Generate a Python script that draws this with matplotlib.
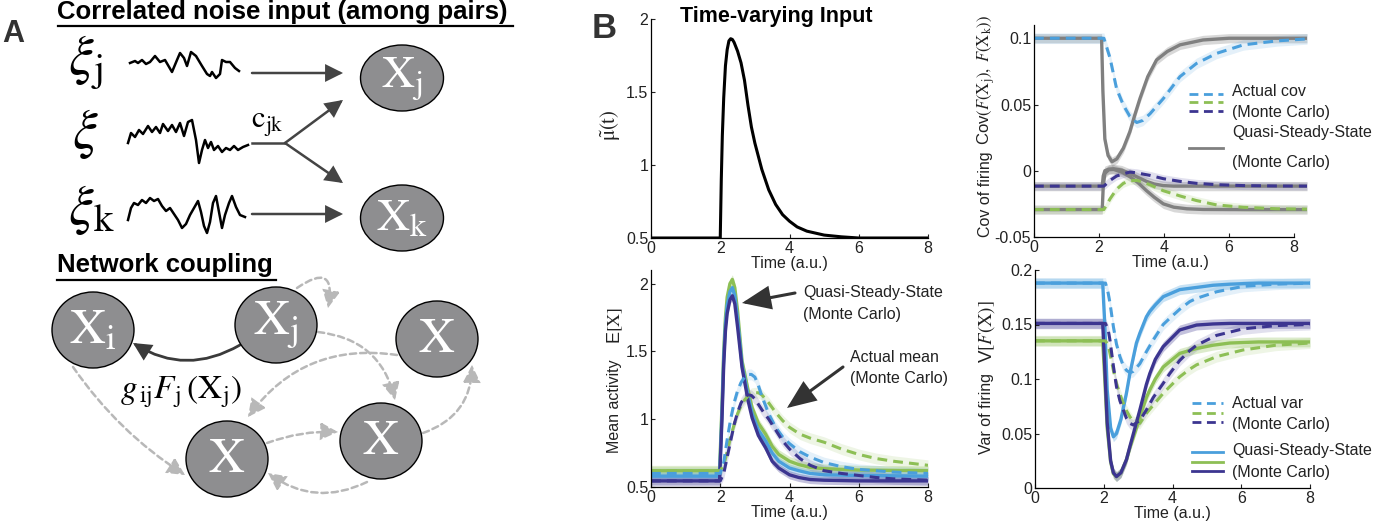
import numpy as np
import matplotlib
matplotlib.use('Agg')
import matplotlib.pyplot as plt
from matplotlib.patches import Ellipse, FancyArrowPatch
from matplotlib.ticker import FormatStrFormatter

plt.rcParams['font.family'] = ['Liberation Sans', 'DejaVu Sans']
plt.rcParams['mathtext.fontset'] = 'stix'

# ---------------- data ----------------
# Time-varying input
t_input = [0, 2.0, 2.03, 2.06, 2.1, 2.15, 2.2, 2.25, 2.3, 2.35, 2.4, 2.5, 2.6, 2.7, 2.8, 2.9,
           3.0, 3.2, 3.4, 3.6, 3.8, 4.0, 4.22, 4.5, 5.0, 5.5, 6.0, 8.0]
mu_input = [0.5, 0.5, 0.9, 1.2, 1.46, 1.68, 1.79, 1.85, 1.865, 1.86, 1.84, 1.78, 1.70, 1.58, 1.41, 1.26,
            1.15, 0.97, 0.83, 0.73, 0.66, 0.615, 0.576, 0.547, 0.52, 0.508, 0.5, 0.5]

# Mean activity (quasi-steady-state, Monte Carlo)
t_mean_qss = [0, 1.98, 2.05, 2.1, 2.15, 2.2, 2.28, 2.35, 2.42, 2.5, 2.63, 2.8, 2.92, 3.1, 3.31,
              3.5, 3.69, 4.0, 4.27, 4.6, 5.0, 6.0, 8.0]
mean_qss_green = [0.62, 0.62, 1.1, 1.5, 1.75, 1.9, 2.0, 2.03, 1.97, 1.8, 1.43, 1.22, 1.085, 0.97, 0.89,
                  0.80, 0.74, 0.69, 0.665, 0.645, 0.635, 0.625, 0.62]
mean_qss_blue = [0.58, 0.58, 1.05, 1.45, 1.7, 1.84, 1.94, 1.97, 1.91, 1.74, 1.40, 1.18, 1.04, 0.92, 0.84,
                 0.75, 0.69, 0.64, 0.62, 0.60, 0.59, 0.585, 0.58]
mean_qss_indigo = [0.545, 0.545, 1.0, 1.4, 1.65, 1.78, 1.88, 1.91, 1.85, 1.68, 1.38, 1.14, 1.01, 0.88, 0.79,
                   0.69, 0.64, 0.59, 0.57, 0.555, 0.55, 0.545, 0.545]
# Mean activity (actual, Monte Carlo)
t_mean_act = [0, 2.0, 2.1, 2.2, 2.3, 2.4, 2.5, 2.6, 2.7, 2.8, 2.9, 3.0, 3.1, 3.2, 3.4, 3.6, 3.8,
              4.0, 4.3, 4.6, 5.0, 5.5, 6.0, 6.5, 7.0, 8.0]
mean_act_blue = [0.6, 0.6, 0.68, 0.85, 1.0, 1.12, 1.21, 1.27, 1.31, 1.33, 1.33, 1.31, 1.25, 1.17, 1.04,
                 0.94, 0.87, 0.82, 0.76, 0.72, 0.68, 0.65, 0.63, 0.62, 0.61, 0.6]
mean_act_green = [0.62, 0.62, 0.66, 0.76, 0.87, 0.96, 1.04, 1.10, 1.14, 1.17, 1.19, 1.195, 1.195, 1.18,
                  1.12, 1.05, 0.99, 0.94, 0.89, 0.86, 0.83, 0.78, 0.74, 0.71, 0.69, 0.66]
mean_act_indigo = [0.545, 0.545, 0.6, 0.72, 0.84, 0.96, 1.05, 1.12, 1.16, 1.18, 1.175, 1.15, 1.11, 1.07,
                   1.0, 0.92, 0.84, 0.78, 0.71, 0.66, 0.62, 0.6, 0.585, 0.57, 0.56, 0.55]

# Covariance of firing
t_cov_qss_top = [0, 2.08, 2.12, 2.18, 2.28, 2.4, 2.55, 2.75, 2.95, 3.1, 3.26, 3.5, 3.77, 4.1, 4.49, 5.2, 6.0, 8.4]
cov_qss_top = [0.1, 0.1, 0.06, 0.024, 0.0115, 0.0068, 0.009, 0.017, 0.0295, 0.042, 0.0545, 0.071,
               0.0836, 0.09, 0.095, 0.0987, 0.1, 0.1]
t_cov_qss_low = [0, 2.1, 2.13, 2.18, 2.3, 2.45, 2.7, 2.95, 3.2, 3.46, 3.7, 3.98, 4.3, 4.7, 5.2, 6.0, 8.4]
cov_qss_low_a = [-0.0116, -0.0116, -0.004, 0.0, 0.0012, 0.0015, 0.0005, -0.002, -0.005, -0.008, -0.010,
                 -0.0112, -0.0116, -0.0116, -0.0116, -0.0116, -0.0116]
cov_qss_low_b = [-0.0293, -0.0293, -0.012, -0.002, 0.0008, 0.001, -0.001, -0.0045, -0.009, -0.015,
                 -0.020, -0.025, -0.0275, -0.0287, -0.0292, -0.0293, -0.0293]
t_cov_act = [0, 2.15, 2.34, 2.54, 2.75, 2.95, 3.16, 3.35, 3.57, 3.98, 4.49, 5.0, 5.62, 6.44, 7.47, 8.4]
cov_act_blue = [0.1, 0.1, 0.085, 0.062, 0.0495, 0.041, 0.0364, 0.038, 0.043, 0.0545, 0.071, 0.081,
                0.0886, 0.095, 0.098, 0.0995]
cov_act_indigo = [-0.0116, -0.0116, -0.0073, -0.004, -0.0023, -0.001, -0.0015, -0.0025, -0.0035, -0.006,
                  -0.008, -0.0095, -0.0105, -0.0112, -0.0115, -0.0116]
cov_act_green = [-0.0293, -0.0293, -0.0212, -0.014, -0.0095, -0.0075, -0.0073, -0.0085, -0.0106, -0.0151,
                 -0.019, -0.0225, -0.0258, -0.0276, -0.0287, -0.029]

# Variance of firing
t_var_qss = [0, 1.97, 2.03, 2.1, 2.2, 2.28, 2.37, 2.5, 2.66, 2.76, 2.95, 3.05, 3.24, 3.34, 3.5, 3.73,
             4.21, 4.7, 5.18, 5.67, 6.5, 8.0]
var_qss_blue = [0.188, 0.188, 0.15, 0.09, 0.055, 0.047, 0.05, 0.063, 0.087, 0.105, 0.133, 0.142, 0.157,
                0.162, 0.168, 0.1755, 0.182, 0.184, 0.186, 0.187, 0.188, 0.188]
var_qss_indigo = [0.151, 0.151, 0.11, 0.06, 0.025, 0.014, 0.0105, 0.014, 0.026, 0.038, 0.06, 0.0716,
                  0.095, 0.105, 0.118, 0.1297, 0.145, 0.1495, 0.1505, 0.151, 0.151, 0.151]
var_qss_green = [0.135, 0.135, 0.1, 0.055, 0.024, 0.013, 0.0104, 0.014, 0.026, 0.037, 0.055, 0.0654,
                 0.083, 0.09, 0.1, 0.111, 0.1235, 0.128, 0.131, 0.133, 0.134, 0.134]
t_var_act = [0, 2.05, 2.13, 2.18, 2.28, 2.37, 2.47, 2.57, 2.66, 2.76, 2.86, 3.05, 3.24, 3.44, 3.73,
             3.92, 4.21, 4.5, 4.7, 5.28, 6.05, 7.0, 8.0]
var_act_blue = [0.188, 0.188, 0.1786, 0.17, 0.148, 0.132, 0.1205, 0.112, 0.108, 0.1058, 0.107, 0.114,
                0.125, 0.1358, 0.150, 0.1557, 0.164, 0.171, 0.174, 0.18, 0.185, 0.187, 0.188]
var_act_indigo = [0.151, 0.151, 0.145, 0.1358, 0.112, 0.093, 0.08, 0.0716, 0.064, 0.0593, 0.0578, 0.062,
                  0.0716, 0.083, 0.096, 0.105, 0.117, 0.126, 0.131, 0.140, 0.146, 0.149, 0.15]
var_act_green = [0.135, 0.135, 0.131, 0.1236, 0.108, 0.096, 0.086, 0.0777, 0.071, 0.0654, 0.061, 0.0593,
                 0.0685, 0.076, 0.0869, 0.093, 0.102, 0.109, 0.113, 0.1205, 0.1266, 0.131, 0.133]

# Schematic noise sketches (panel A)
sk_xi_j_x = [130, 135, 138, 142, 146, 150, 155, 160, 165, 172, 177, 180, 184, 187, 191, 196, 202, 207,
             210, 212, 216, 220, 222, 226, 230, 235, 239]
sk_xi_j_y = [63, 61, 63, 60, 64, 62, 56, 62, 60, 72, 60, 53, 58, 66, 52, 56, 66, 74, 76, 72, 78, 74, 60,
             62, 62, 68, 71]
sk_xi_x = [128, 131, 135, 139, 143, 148, 152, 156, 160, 163, 168, 172, 176, 180, 184, 188, 192, 196, 199,
           202, 205, 208, 211, 214, 218, 222, 226, 230, 234, 238, 243, 248]
sk_xi_y = [143, 133, 137, 130, 134, 126, 132, 127, 133, 124, 131, 125, 132, 123, 136, 122, 120, 140, 163,
           150, 140, 148, 142, 150, 146, 152, 148, 150, 146, 150, 147, 145]
sk_xi_k_x = [128, 131, 134, 138, 142, 146, 150, 154, 158, 162, 166, 170, 174, 178, 182, 186, 190, 194, 198,
             201, 204, 207, 210, 213, 216, 219, 222, 225, 229, 232, 236, 240, 245]
sk_xi_k_y = [220, 208, 203, 205, 200, 203, 198, 201, 199, 206, 211, 208, 214, 220, 228, 224, 215, 208, 201,
             212, 226, 233, 222, 203, 196, 212, 228, 215, 203, 196, 207, 215, 217]

C_BLUE = '#4a9fdc'
C_GREEN = '#8dbf55'
C_IND = '#3c3590'
C_GREY = '#808080'
TXT = '#222222'

W, H = 1382, 522
fig = plt.figure(figsize=(W / 100, H / 100), dpi=100)


def px_axes(l, t, r, b):
    return fig.add_axes([l / W, 1 - b / H, (r - l) / W, (b - t) / H])


def style(ax, xmax=8):
    for s in ['top', 'right']:
        ax.spines[s].set_visible(False)
    for s in ['left', 'bottom']:
        ax.spines[s].set_linewidth(0.9)
    ax.spines['bottom'].set_bounds(0, 8)
    ax.set_xlim(0, xmax)
    ax.set_xticks([0, 2, 4, 6, 8])
    ax.tick_params(direction='in', length=3, width=0.8, labelsize=11.5, pad=2, colors=TXT)
    ax.patch.set_alpha(0)
    ax.set_xlabel('Time (a.u.)', fontsize=11.5, labelpad=0, color=TXT)
    ax.yaxis.set_major_formatter(FormatStrFormatter('%g'))


def solid(ax, t, y, c, band, lw=2.4):
    t = np.asarray(t); y = np.asarray(y)
    ax.fill_between(t, y - band, y + band, color=c, alpha=0.3, lw=0)
    ax.plot(t, y, color=c, lw=lw, solid_joinstyle='round')


def dashed(ax, t, y, c, band, lw=2.2):
    t = np.asarray(t); y = np.asarray(y)
    ax.fill_between(t, y - band, y + band, color=c, alpha=0.15, lw=0)
    ax.plot(t, y, color=c, lw=lw, dashes=(3.2, 2.0))


# ---- top-left: input
ax1 = px_axes(651, 19, 928, 238)
ax1.plot(t_input, mu_input, color='k', lw=2.2)
ax1.set_ylim(0.5, 2)
ax1.set_yticks([0.5, 1, 1.5, 2])
style(ax1)

# ---- bottom-left: mean
ax2 = px_axes(651, 270, 928, 487)
solid(ax2, t_mean_qss, mean_qss_green, C_GREEN, 0.035)
solid(ax2, t_mean_qss, mean_qss_blue, C_BLUE, 0.03)
solid(ax2, t_mean_qss, mean_qss_indigo, C_IND, 0.03)
dashed(ax2, t_mean_act, mean_act_green, C_GREEN, 0.04)
dashed(ax2, t_mean_act, mean_act_blue, C_BLUE, 0.04)
dashed(ax2, t_mean_act, mean_act_indigo, C_IND, 0.04)
ax2.set_ylim(0.5, 2.1)
ax2.set_yticks([0.5, 1, 1.5, 2])
style(ax2)

# ---- top-right: covariance
ax3 = px_axes(1034, 25, 1307, 237)
solid(ax3, t_cov_qss_low, cov_qss_low_b, C_GREY, 0.0035)
solid(ax3, t_cov_qss_low, cov_qss_low_a, C_GREY, 0.0035)
dashed(ax3, t_cov_act, cov_act_green, C_GREEN, 0.003)
dashed(ax3, t_cov_act, cov_act_indigo, C_IND, 0.003)
solid(ax3, t_cov_qss_top, cov_qss_top, C_GREY, 0.0035)
dashed(ax3, t_cov_act, cov_act_blue, C_BLUE, 0.004)
ax3.set_ylim(-0.05, 0.11)
ax3.set_yticks([-0.05, 0, 0.05, 0.1])
style(ax3, xmax=8.4)

# ---- bottom-right: variance
ax4 = px_axes(1035, 270, 1310, 488)
solid(ax4, t_var_qss, var_qss_blue, C_BLUE, 0.0045)
solid(ax4, t_var_qss, var_qss_green, C_GREEN, 0.0045)
solid(ax4, t_var_qss, var_qss_indigo, C_IND, 0.0045)
dashed(ax4, t_var_act, var_act_blue, C_BLUE, 0.005)
dashed(ax4, t_var_act, var_act_green, C_GREEN, 0.005)
dashed(ax4, t_var_act, var_act_indigo, C_IND, 0.005)
ax4.set_ylim(0, 0.2)
ax4.set_yticks([0, 0.05, 0.1, 0.15, 0.2])
style(ax4)

# ---- overlay (pixel coordinates) for schematic, labels, legends
ov = fig.add_axes([0, 0, 1, 1])
ov.set_xlim(0, W)
ov.set_ylim(H, 0)
ov.axis('off')
ov.patch.set_alpha(0)


def ylab(x, y, s, fs):
    ov.text(x, y, s, rotation=90, ha='center', va='center', fontsize=fs, color=TXT)


ylab(611, 125, r'$\tilde{\mathrm{\mu}}(\mathrm{t})$', 15)
ylab(615, 406, 'Mean activity', 11.5)
ylab(615, 325, r'E$[\mathrm{X}]$', 13)
ylab(986, 194, 'Cov of firing', 11.5)
ylab(986, 80, r'Cov$\left(F(\mathrm{X_j}),\ F(\mathrm{X_k})\right)$', 12)
ylab(987, 413, 'Var of firing', 11.5)
ylab(987, 332, r'V$[F(\mathrm{X})]$', 13.5)

ov.text(2, 42, 'A', fontsize=22, fontweight='bold', color='#333333', va='baseline')
ov.text(592, 38, 'B', fontsize=25, fontweight='bold', color='#333333', va='baseline')
ov.text(57, 19, 'Correlated noise input (among pairs)', fontsize=18.5, fontweight='bold', va='baseline')
ov.plot([58, 513], [25.5, 25.5], color='k', lw=1.6)
ov.text(57, 272, 'Network coupling', fontsize=18.5, fontweight='bold', va='baseline')
ov.plot([57, 276], [280, 280], color='k', lw=1.6)
ov.text(680, 22, 'Time-varying Input', fontsize=15.5, fontweight='bold', va='baseline')

# noise inputs
ov.text(68, 74, r'$\xi_{\mathrm{j}}$', fontsize=40, va='baseline')
ov.text(72, 148, r'$\xi$', fontsize=40, va='baseline')
ov.text(68, 224, r'$\xi_{\mathrm{k}}$', fontsize=40, va='baseline')
ov.plot(sk_xi_j_x, sk_xi_j_y, color='k', lw=1.8)
ov.plot(sk_xi_x, sk_xi_y, color='k', lw=1.8)
ov.plot(sk_xi_k_x, sk_xi_k_y, color='k', lw=1.8)
ov.text(251, 128, r'$\mathrm{c}_{\mathrm{jk}}$', fontsize=22, va='baseline')

AC = '#444444'


def arrow(p0, p1, rad=0.0, color=AC, lw=1.8, ls='-', hl=10, hw=5):
    a = FancyArrowPatch(p0, p1, connectionstyle=f'arc3,rad={rad}',
                        arrowstyle=f'-|>,head_length={hl},head_width={hw}',
                        mutation_scale=1, color=color, lw=lw, linestyle=ls,
                        shrinkA=0, shrinkB=0, joinstyle='miter')
    ov.add_patch(a)


arrow((252, 73), (343, 73))
ov.plot([252, 285], [143, 143], color=AC, lw=1.8)
arrow((285, 143), (343, 100))
arrow((285, 143), (343, 183))
arrow((252, 214), (343, 214))

CF = '#8e8e90'


def node(x, y, w, h, label, fs):
    ov.add_patch(Ellipse((x, y), w, h, facecolor=CF, edgecolor='k', lw=1.0))
    ov.text(x, y, label, color='white', fontsize=fs, ha='center', va='center')


node(402, 78, 83, 66, r'$\mathrm{X}_{\mathrm{j}}$', 33)
node(402, 218, 83, 66, r'$\mathrm{X}_{\mathrm{k}}$', 33)

# network
DC = '#b8b8b8'
dash = (0, (2.5, 1.6))
arrow((297, 288), (328, 308), rad=-1.2, color=DC, ls=dash)
arrow((318, 332), (395, 400), rad=-0.35, color=DC, ls=dash)
arrow((397, 355), (248, 417), rad=0.3, color=DC, ls=dash)
arrow((73, 367), (185, 475), rad=0.1, color=DC, ls=dash)
arrow((267, 443), (338, 432), rad=-0.1, color=DC, ls=dash)
arrow((367, 482), (268, 473), rad=-0.3, color=DC, ls=dash)
arrow((423, 433), (472, 365), rad=0.35, color=DC, ls=dash)
arrow((240, 345), (133, 343), rad=-0.3, color='#3a3a3a', lw=2.0)

node(93, 330, 82, 76, r'$\mathrm{X}_{\mathrm{i}}$', 36)
node(276, 325, 82, 76, r'$\mathrm{X}_{\mathrm{j}}$', 36)
node(437, 339, 82, 76, r'$\mathrm{X}$', 36)
node(227, 459, 82, 76, r'$\mathrm{X}$', 36)
node(381, 441, 82, 76, r'$\mathrm{X}$', 36)
ov.text(120, 398, r'$g_{\,\mathrm{ij}}F_{\mathrm{j}}\,(\mathrm{X}_{\mathrm{j}})$', fontsize=24, va='baseline')

# bottom-left annotations
ov.text(803, 292, 'Quasi-Steady-State', fontsize=11.5, va='center', color=TXT)
ov.text(803, 314, '(Monte Carlo)', fontsize=11.5, va='center', color=TXT)
ov.text(850, 357, 'Actual mean', fontsize=11.5, va='center', color=TXT)
ov.text(850, 378, '(Monte Carlo)', fontsize=11.5, va='center', color=TXT)
arrow((795, 293), (742, 303), color='#333333', lw=2.2, hl=17, hw=7)
arrow((843, 367), (787, 408), color='#333333', lw=2.2, hl=17, hw=7)

# legends
for yy, c in zip([94, 102, 111], [C_BLUE, C_GREEN, C_IND]):
    ov.plot([1189, 1223], [yy, yy], color=c, lw=2.0, dashes=(3.2, 2.0))
ov.plot([1189, 1223], [148, 148], color=C_GREY, lw=2.0)
ov.text(1232, 91, 'Actual cov', fontsize=11.5, va='center', color=TXT)
ov.text(1232, 113, '(Monte Carlo)', fontsize=11.5, va='center', color=TXT)
ov.text(1232, 132, 'Quasi-Steady-State', fontsize=11.5, va='center', color=TXT)
ov.text(1232, 163, '(Monte Carlo)', fontsize=11.5, va='center', color=TXT)

for yy, c in zip([403, 413, 422], [C_BLUE, C_GREEN, C_IND]):
    ov.plot([1192, 1223], [yy, yy], color=c, lw=2.0, dashes=(3.2, 2.0))
for yy, c in zip([452, 462, 471], [C_BLUE, C_GREEN, C_IND]):
    ov.plot([1192, 1223], [yy, yy], color=c, lw=2.0)
ov.text(1232, 403, 'Actual var', fontsize=11.5, va='center', color=TXT)
ov.text(1232, 425, '(Monte Carlo)', fontsize=11.5, va='center', color=TXT)
ov.text(1232, 450, 'Quasi-Steady-State', fontsize=11.5, va='center', color=TXT)
ov.text(1232, 473, '(Monte Carlo)', fontsize=11.5, va='center', color=TXT)

fig.savefig('out.png', dpi=100)
